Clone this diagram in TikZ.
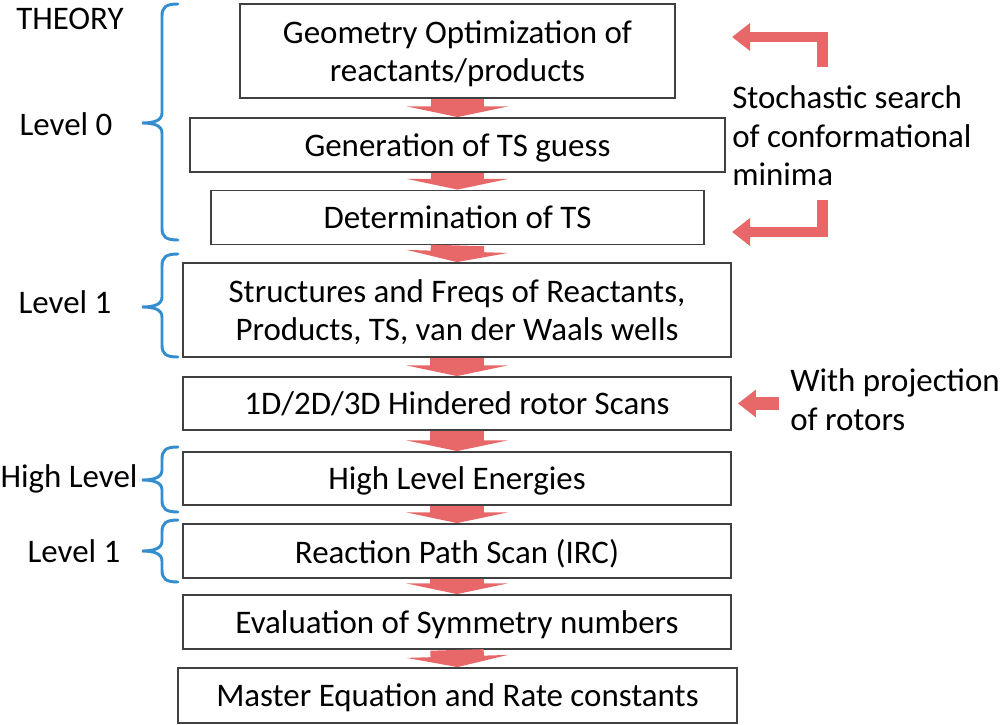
\documentclass[tikz,border=0pt]{standalone}
\usepackage{fontspec}
\setmainfont{Carlito}
\usetikzlibrary{arrows.meta}

\definecolor{flowred}{RGB}{232,104,106}
\definecolor{braceblue}{RGB}{52,141,206}
\definecolor{boxgray}{RGB}{64,64,64}

\begin{document}
\begin{tikzpicture}[x=0.75pt, y=-0.75pt,
        font=\fontsize{24.7}{29}\selectfont,
        box/.style={draw=boxgray, line width=1.4pt, align=center, inner sep=2pt, text depth=0pt},
        side_note/.style={align=left, inner sep=0pt, anchor=west},
        level_label/.style={inner sep=0pt},
        flow/.style={draw=flowred, line width=40pt, -{Triangle[width=76pt, length=8pt]}},
        side_arrow/.style={draw=flowred, line width=8pt, miter limit=10, -{Triangle[width=20pt, length=13.5pt]}},
        brace/.style={draw=braceblue, line width=2.2pt, line cap=round}
    ]
    \useasboundingbox (0,0) rectangle (1000,725);

    % --- Passi del calcolo ---
    \node[box, minimum width=326.25pt, minimum height=70.5pt] (geom) at (457.5,51) {Geometry Optimization of\\reactants/products};
    \node[box, minimum width=401.25pt, minimum height=40.5pt] (tsguess) at (457.5,145) {Generation of TS guess};
    \node[box, minimum width=369.75pt, minimum height=40.5pt] (tsdet) at (457.5,217.5) {Determination of TS};
    \node[box, minimum width=411pt, minimum height=70.5pt] (struct) at (457,310) {Structures and Freqs of Reactants,\\Products, TS, van der Waals wells};
    \node[box, minimum width=411pt, minimum height=39.75pt] (rotor) at (457,403.5) {1D/2D/3D Hindered rotor Scans};
    \node[box, minimum width=411pt, minimum height=39.75pt] (energy) at (457,478.5) {High Level Energies};
    \node[box, minimum width=411pt, minimum height=40.5pt] (irc) at (457,551) {Reaction Path Scan (IRC)};
    \node[box, minimum width=411pt, minimum height=40.5pt] (symm) at (457,622) {Evaluation of Symmetry numbers};
    \node[box, minimum width=419.25pt, minimum height=41.25pt] (master) at (457.5,695.5) {Master Equation and Rate constants};

    % frecce tra i passi
    \draw[flow] (geom.south) -- (tsguess.north);
    \draw[flow] (tsguess.south) -- (tsdet.north);
    \draw[flow] (tsdet.south) -- (struct.north);
    \draw[flow] (struct.south) -- (rotor.north);
    \draw[flow] (rotor.south) -- (energy.north);
    \draw[flow] (energy.south) -- (irc.north);
    \draw[flow] (irc.south) -- (symm.north);
    \draw[flow] (symm.south) -- (master.north);

    % --- Livelli di teoria ---
    \node[level_label] (theory) at (70,19) {THEORY};
    \node[level_label] (lev0) at (66,124) {Level 0};
    \node[level_label] (lev1a) at (65,302) {Level 1};
    \node[level_label] (levhigh) at (69,479) {High Level};
    \node[level_label] (lev1b) at (74,551) {Level 1};

    \foreach \t/\m/\b in {4/123/240, 254/307/357, 447/480/512, 520/551/582}
        \draw[brace] (178,\t) .. controls (166,\t) and (162,\t+3) .. (162,\t+12)
            -- (162,\m-10) .. controls (162,\m-3) and (155,\m) .. (142,\m)
            .. controls (155,\m) and (162,\m+3) .. (162,\m+10)
            -- (162,\b-12) .. controls (162,\b-3) and (166,\b) .. (178,\b);

    % --- Note a destra ---
    \node[side_note] (stoch) at (732,136) {Stochastic search\\of conformational\\minima};
    \coordinate (stoch_top) at (822.5,67);
    \coordinate (stoch_top_tip) at (732,37);
    \coordinate (stoch_bot) at (822.5,200);
    \coordinate (stoch_bot_tip) at (732,232);
    \draw[side_arrow] (stoch_top) |- (stoch_top_tip);
    \draw[side_arrow] (stoch_bot) |- (stoch_bot_tip);

    \node[side_note] (rotnote) at (790,400) {With projection\\of rotors};
    \draw[side_arrow, line width=10pt, shorten <=8.25pt, shorten >=4.5pt] (rotnote.west |- rotor.east) -- (rotor.east);

\end{tikzpicture}
\end{document}
